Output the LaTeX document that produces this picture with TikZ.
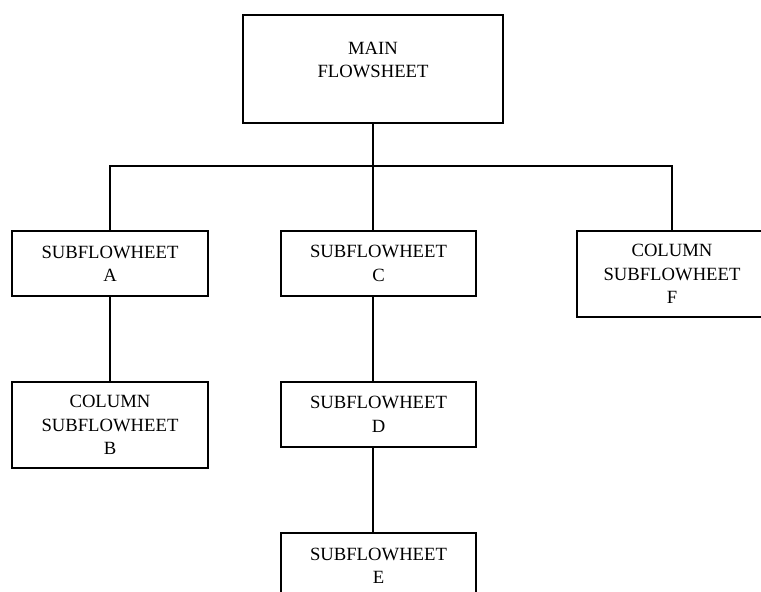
\documentclass[tikz,border=0pt]{standalone}
\usepackage{fontspec}
\setmainfont{Liberation Serif}
\usepackage{tikz}
\usetikzlibrary{positioning}
\tikzset{
    x=0.75pt,
    y=-0.75pt,
    every path/.style={line width=1pt},
    sheet/.style={draw, rectangle, align=center, inner sep=0pt,
        font=\fontsize{14}{17.5}\selectfont},
    small sheet/.style={sheet, minimum width=146.25pt, minimum height=48.75pt},
    tall sheet/.style={sheet, minimum width=146.25pt, minimum height=64.5pt},
}

\begin{document}
\begin{tikzpicture}
    \useasboundingbox (0,0) rectangle (761,592);

        \node[sheet, minimum width=195pt, minimum height=81pt, text depth=13.5pt] (main) at (373,69) {MAIN\\FLOWSHEET};
        \node[small sheet, minimum width=147pt] (A) at (110,263.5) {SUBFLOWHEET\\A};
        \node[small sheet] (C) at (378.5,263.5) {SUBFLOWHEET\\C};
        \node[tall sheet, minimum width=142.5pt] (F) at (672,274) {COLUMN\\SUBFLOWHEET\\F};
        \node[tall sheet, minimum width=147pt] (B) at (110,425) {COLUMN\\SUBFLOWHEET\\B};
        \node[small sheet] (D) at (378.5,414.5) {SUBFLOWHEET\\D};
        \node[small sheet] (E) at (378.5,565.5) {SUBFLOWHEET\\E};

        \coordinate (bus) at (373,166);

    \draw (main.south -| bus) -- (bus);
    \draw (A.north) |- (bus) -| (F.north);
    \draw (C.north -| bus) -- (bus);
    \draw (A.south) -- (B.north);
    \draw (C.south -| bus) -- (D.north -| bus);
    \draw (D.south -| bus) -- (E.north -| bus);
    \end{tikzpicture}
\end{document}
